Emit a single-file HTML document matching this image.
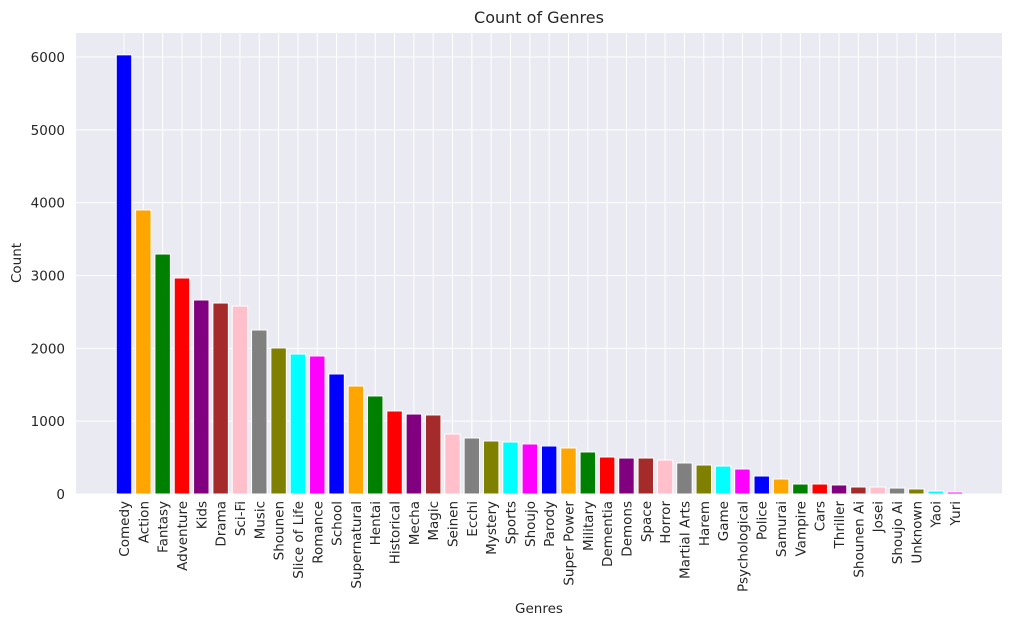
<!DOCTYPE html>
<html><head><meta charset="utf-8"><style>
body{margin:0;background:#fff;font-family:"DejaVu Sans","Liberation Sans",sans-serif;}
svg{display:block}
</style></head><body>
<svg id="chart" width="1014" height="627" xmlns="http://www.w3.org/2000/svg" font-family="DejaVu Sans, Liberation Sans, sans-serif">
<rect x="76" y="33" width="926" height="461" fill="#EAEAF2"/>
<g id="grid"></g><g id="bars"></g><g id="xt"></g><g id="yt"></g>
<text x="539" y="23" text-anchor="middle" font-size="16" fill="#262626">Count of Genres</text>
<text x="539" y="613" text-anchor="middle" font-size="13.5" fill="#262626">Genres</text>
<text x="21" y="263" text-anchor="middle" font-size="13.5" fill="#262626" transform="rotate(-90 21 263)">Count</text>
</svg>
<script>
const categories=["Comedy","Action","Fantasy","Adventure","Kids","Drama","Sci-Fi","Music","Shounen","Slice of Life","Romance","School","Supernatural","Hentai","Historical","Mecha","Magic","Seinen","Ecchi","Mystery","Sports","Shoujo","Parody","Super Power","Military","Dementia","Demons","Space","Horror","Martial Arts","Harem","Game","Psychological","Police","Samurai","Vampire","Cars","Thriller","Shounen Ai","Josei","Shoujo Ai","Unknown","Yaoi","Yuri"];
const counts=[6030,3900,3295,2966,2664,2622,2581,2252,2005,1922,1895,1648,1483,1346,1140,1098,1085,824,769,728,714,687,659,632,577,508,494,494,467,426,398,384,343,247,206,137,137,124,96,96,82,69,41,27];
const yTicks=[0,1000,2000,3000,4000,5000,6000];
const palette=["blue","orange","green","red","purple","brown","pink","gray","olive","cyan","magenta"];
const NS="http://www.w3.org/2000/svg";
const x0=124,x1=955,y0=494,yPer=0.07283;
const step=(x1-x0)/(categories.length-1);
const xS=i=>x0+i*step, yS=v=>y0-v*yPer;
function mk(t,a,p){const e=document.createElementNS(NS,t);for(const k in a)e.setAttribute(k,a[k]);p.appendChild(e);return e;}
const G=document.getElementById('grid'),B=document.getElementById('bars'),XT=document.getElementById('xt'),YT=document.getElementById('yt');
yTicks.forEach(v=>{
 const l=mk('line',{x1:76,x2:1002,y1:yS(v),y2:yS(v),stroke:'#fff','stroke-width':1},G);
 
 
 const t=mk('text',{x:65,y:yS(v)+5,'text-anchor':'end','font-size':13.5,fill:'#262626'},YT);
 t.textContent=v;
 
 
});
categories.forEach((c,i)=>{
 const x=xS(i);
 const l=mk('line',{x1:x,x2:x,y1:33,y2:494,stroke:'#fff','stroke-width':1},G);
 
 
 const w=step*0.8;
 const r=mk('rect',{x:x-w/2,y:yS(counts[i]),width:w,height:counts[i]*yPer,fill:palette[i%palette.length],stroke:'#fff','stroke-width':1},B);
 
 
 const t=mk('text',{x:0,y:0,'text-anchor':'end','font-size':13.5,fill:'#262626',transform:`translate(${x+5},${501}) rotate(-90)`},XT);
 t.textContent=c;
 
 
});
</script>
</body></html>
